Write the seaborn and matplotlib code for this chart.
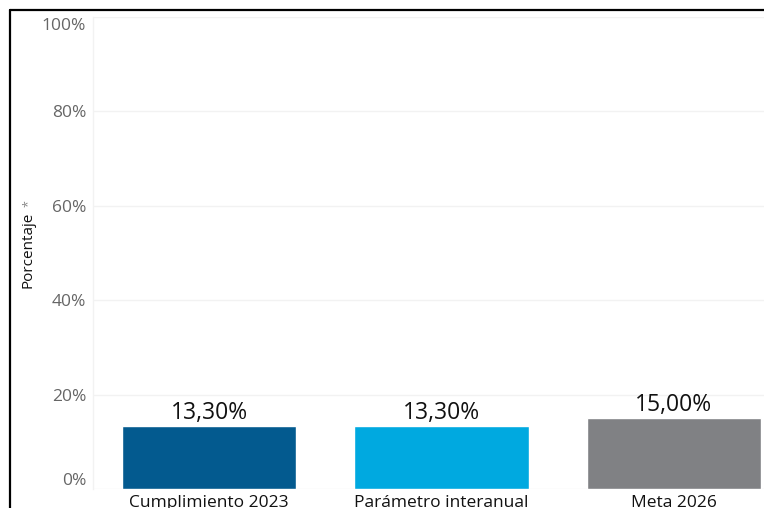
import matplotlib
matplotlib.use('Agg')
import matplotlib.pyplot as plt
import matplotlib.transforms as mtransforms
import seaborn as sns
import pandas as pd
from matplotlib.lines import Line2D
from matplotlib.ticker import FuncFormatter

# Data
categorias = ['Cumplimiento 2023', 'Parámetro interanual', 'Meta 2026']
porcentajes = [13.30, 13.30, 15.00]
colores = ['#035A8F', '#00A9E0', '#808184']
y_ticks = [0, 20, 40, 60, 80, 100]

df = pd.DataFrame({'Categoria': categorias, 'Porcentaje': porcentajes})

sns.set_style('white')
plt.rcParams['font.family'] = ['Open Sans', 'DejaVu Sans']

fig = plt.figure(figsize=(7.64, 5.08), dpi=100)
ax = fig.add_axes([93 / 764, 19 / 508, 697 / 764, 472 / 508])

sns.barplot(data=df, x='Categoria', y='Porcentaje', hue='Categoria',
            palette=colores, width=0.75, legend=False, ax=ax, saturation=1)

ax.set_ylim(0, 100)
ax.set_yticks(y_ticks)
ax.yaxis.set_major_formatter(FuncFormatter(lambda v, p: f'{v:.0f}%'))
ax.tick_params(axis='y', labelsize=12.5, labelcolor='#666666', length=0, pad=5)
ax.tick_params(axis='x', labelsize=12.5, labelcolor='#111111', length=0, pad=4)
ax.grid(axis='y', color='#f2f2f2', linewidth=1)
ax.set_axisbelow(True)
for s in ['top', 'right', 'bottom']:
    ax.spines[s].set_visible(False)
ax.spines['left'].set_color('#f2f2f2')
ax.spines['left'].set_linewidth(1)

# keep first and last tick labels inside the axis, as in the source
fig.canvas.draw()
ylabels = ax.get_yticklabels()
ylabels[0].set_transform(ylabels[0].get_transform() +
                         mtransforms.ScaledTranslation(0, 10 / 100, fig.dpi_scale_trans))
ylabels[-1].set_transform(ylabels[-1].get_transform() +
                          mtransforms.ScaledTranslation(0, -7 / 100, fig.dpi_scale_trans))

ax.set_xlabel('')
ax.set_ylabel('')
fig.text(28 / 764, 1 - 250 / 508, 'Porcentaje', fontsize=11, color='#111111',
         rotation=90, ha='center', va='center')

# value labels
for cont in ax.containers:
    vals = [b.get_height() for b in cont]
    ax.bar_label(cont, labels=[f'{v:.2f}'.replace('.', ',') + '%' for v in vals],
                 fontsize=16.5, color='#111111', padding=1)

# small pin mark next to the axis title
fig.text(28 / 764, 1 - 204 / 508, '*', fontsize=9, color='#888888',
         rotation=90, ha='center', va='center')

# black frame lines from the screenshot
fig.add_artist(Line2D([9.5 / 764, 9.5 / 764], [0, 1 - 10 / 508], color='black', linewidth=1.6))
fig.add_artist(Line2D([9.5 / 764, 1], [1 - 10 / 508, 1 - 10 / 508], color='black', linewidth=1.6))

fig.savefig('out.png', dpi=100)
